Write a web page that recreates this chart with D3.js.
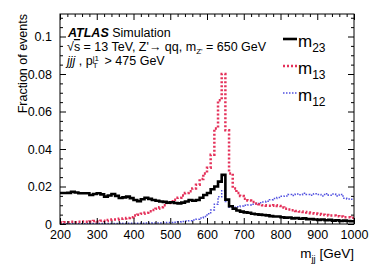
<!DOCTYPE html>
<html>
<head>
<meta charset="utf-8">
<script src="https://cdn.jsdelivr.net/npm/d3@7"></script>
<style>
  body { margin: 0; background: #fff; }
  svg { font-family: "Liberation Sans", Arial, Helvetica, sans-serif; }
  svg text { white-space: pre; }
  .tick text { font-size: 12.5px; fill: #000; }
</style>
</head>
<body>
<svg id="chart" width="374" height="268"></svg>
<script>
// bin low edges, 10 GeV bins from 200 to 1000
var binEdges = d3.range(200, 1000, 10);
var xTicks = [200, 300, 400, 500, 600, 700, 800, 900, 1000];
var yTicks = [0, 0.02, 0.04, 0.06, 0.08, 0.1];
var yTickLabels = ["0", "0.02", "0.04", "0.06", "0.08", "0.1"];

var m23 = [0.0165,0.0165,0.0166,0.0172,0.0168,0.0164,0.0164,0.0164,0.0155,0.0160,
           0.0164,0.0158,0.0146,0.0152,0.0160,0.0150,0.0139,0.0142,0.0146,0.0138,
           0.0128,0.0122,0.0132,0.0140,0.0134,0.0128,0.0124,0.0120,0.0118,0.0114,
           0.0116,0.0112,0.0110,0.0114,0.0120,0.0128,0.0124,0.0128,0.0140,0.0155,
           0.0165,0.0185,0.0200,0.0226,0.0262,0.0130,0.0095,0.0082,0.0072,0.0066,
           0.0062,0.0060,0.0055,0.0052,0.0050,0.0048,0.0046,0.0042,0.0040,0.0040,
           0.0036,0.0034,0.0035,0.0030,0.0032,0.0028,0.0030,0.0026,0.0026,0.0024,
           0.0022,0.0024,0.0020,0.0022,0.0018,0.0020,0.0016,0.0018,0.0016,0.0015];

var m13 = [0.0008,0.0010,0.0010,0.0012,0.0010,0.0012,0.0014,0.0012,0.0014,0.0016,
           0.0014,0.0018,0.0016,0.0022,0.0024,0.0024,0.0028,0.0030,0.0032,0.0036,
           0.0045,0.0050,0.0055,0.0060,0.0068,0.0075,0.0082,0.0090,0.0100,0.0112,
           0.0122,0.0130,0.0140,0.0152,0.0165,0.0175,0.0190,0.0210,0.0240,0.0270,
           0.0300,0.0370,0.0510,0.0660,0.0800,0.0500,0.0270,0.0190,0.0165,0.0150,
           0.0135,0.0125,0.0118,0.0110,0.0105,0.0100,0.0098,0.0098,0.0100,0.0096,
           0.0088,0.0082,0.0078,0.0074,0.0070,0.0067,0.0064,0.0061,0.0058,0.0056,
           0.0054,0.0050,0.0048,0.0046,0.0046,0.0042,0.0040,0.0036,0.0036,0.0034];

var m12 = [0.0002,0.0002,0.0002,0.0002,0.0002,0.0002,0.0002,0.0003,0.0002,0.0003,
           0.0003,0.0003,0.0003,0.0003,0.0003,0.0003,0.0004,0.0003,0.0004,0.0004,
           0.0004,0.0004,0.0004,0.0005,0.0004,0.0005,0.0005,0.0006,0.0007,0.0008,
           0.0008,0.0010,0.0012,0.0014,0.0016,0.0018,0.0022,0.0026,0.0032,0.0040,
           0.0055,0.0075,0.0105,0.0145,0.0178,0.0120,0.0090,0.0090,0.0092,0.0096,
           0.0100,0.0102,0.0106,0.0108,0.0114,0.0118,0.0122,0.0130,0.0136,0.0142,
           0.0148,0.0150,0.0158,0.0152,0.0160,0.0156,0.0164,0.0158,0.0154,0.0162,
           0.0158,0.0150,0.0162,0.0154,0.0160,0.0150,0.0158,0.0138,0.0134,0.0132];

var L = 60, R = 354, T = 14, B = 224;
var svg = d3.select("#chart");

var x = d3.scaleLinear().domain([200, 1000]).range([L, R]);
var y = d3.scaleLinear().domain([0, 0.112]).range([B, T]);

svg.append("clipPath").attr("id", "clip")
  .append("rect").attr("x", L).attr("y", T).attr("width", R - L).attr("height", B - T);

// histograms
function histPts(vals) {
  var pts = binEdges.map(function(e, i) { return [e, vals[i]]; });
  pts.push([1000, vals[vals.length - 1]]);
  return pts;
}
var line = d3.line()
  .x(function(d) { return x(d[0]); })
  .y(function(d) { return y(d[1]); })
  .curve(d3.curveStepAfter);

var hg = svg.append("g").attr("clip-path", "url(#clip)");
hg.append("path").attr("d", line(histPts(m12)))
  .attr("fill", "none").attr("stroke", "#5050e0").attr("stroke-width", 1.5)
  .attr("stroke-dasharray", "1.5,1.5");
hg.append("path").attr("d", line(histPts(m13)))
  .attr("fill", "none").attr("stroke", "#e4315a").attr("stroke-width", 2.5)
  .attr("stroke-dasharray", "2,2");
hg.append("path").attr("d", line(histPts(m23)))
  .attr("fill", "none").attr("stroke", "#000").attr("stroke-width", 2.6);

// axes, ticks pointing inward
function styleAxis(g) {
  g.select(".domain").remove();
  g.selectAll(".tick line").attr("stroke", "#000");
}
var xMinor = d3.range(200, 1001, 20).filter(function(v) { return v % 100 !== 0; });
var yMinor = d3.range(0, 0.1125, 0.005).filter(function(v) { return Math.abs(v / 0.02 - Math.round(v / 0.02)) > 1e-6; });

svg.append("g").attr("transform", "translate(0," + B + ")")
  .call(d3.axisBottom(x).tickValues(xTicks).tickSize(-6).tickPadding(6).tickFormat(d3.format("d")))
  .call(styleAxis);
svg.append("g").attr("transform", "translate(0," + B + ")")
  .call(d3.axisBottom(x).tickValues(xMinor).tickSize(-3).tickFormat(""))
  .call(styleAxis);
svg.append("g").attr("transform", "translate(0," + T + ")")
  .call(d3.axisTop(x).tickValues(xTicks).tickSize(-6).tickFormat(""))
  .call(styleAxis);
svg.append("g").attr("transform", "translate(0," + T + ")")
  .call(d3.axisTop(x).tickValues(xMinor).tickSize(-3).tickFormat(""))
  .call(styleAxis);

svg.append("g").attr("transform", "translate(" + L + ",0)")
  .call(d3.axisLeft(y).tickValues(yTicks).tickSize(-6).tickPadding(8)
    .tickFormat(function(d, i) { return yTickLabels[i]; }))
  .call(styleAxis);
svg.append("g").attr("transform", "translate(" + L + ",0)")
  .call(d3.axisLeft(y).tickValues(yMinor).tickSize(-3).tickFormat(""))
  .call(styleAxis);
svg.append("g").attr("transform", "translate(" + R + ",0)")
  .call(d3.axisRight(y).tickValues(yTicks).tickSize(-6).tickFormat(""))
  .call(styleAxis);
svg.append("g").attr("transform", "translate(" + R + ",0)")
  .call(d3.axisRight(y).tickValues(yMinor).tickSize(-3).tickFormat(""))
  .call(styleAxis);

svg.append("rect").attr("x", L).attr("y", T).attr("width", R - L).attr("height", B - T)
  .attr("fill", "none").attr("stroke", "#000").attr("stroke-width", 1);

// axis titles
svg.append("text").attr("transform", "translate(27," + T + ") rotate(-90)")
  .attr("text-anchor", "end").attr("font-size", 12.5).text("Fraction of events");

var xt = svg.append("text").attr("x", R).attr("y", 258).attr("text-anchor", "end").attr("font-size", 13.5);
xt.append("tspan").text("m");
xt.append("tspan").attr("font-size", 9.5).attr("dy", 4).text("jj");
xt.append("tspan").attr("dy", -4).text(" [GeV]");

// rich text helper: parts laid out one after another
function rich(x0, y0, parts) {
  var cx = x0;
  parts.forEach(function(p) {
    var t = svg.append("text").attr("x", cx).attr("y", y0 + (p.dy || 0))
      .attr("font-size", p.size || 12.5)
      .style("font-style", p.italic ? "italic" : "normal")
      .style("font-weight", p.bold ? "bold" : "normal")
      .style("text-decoration", p.over ? "overline" : "none")
      .text(p.t);
    var w = t.node().getComputedTextLength();
    if (!p.stay) cx += w;
  });
}

rich(68, 37, [
  {t: "ATLAS", bold: true, italic: true},
  {t: " Simulation"}
]);
rich(67, 51, [
  {t: "\u221A"},
  {t: "s", over: true},
  {t: " = 13 TeV, Z'\u2192 qq, m"},
  {t: "Z'", size: 8, dy: 3},
  {t: " = 650 GeV"}
]);
rich(67, 65, [
  {t: "jjj", italic: true},
  {t: " , p"},
  {t: "j1", size: 8, dy: -4.5, stay: true},
  {t: "T", size: 8, dy: 3},
  {t: "  > 475 GeV"}
]);

// legend
var legendNames = ["23", "13", "12"];
var legendStyles = [
  {stroke: "#000", width: 2.6, dash: null},
  {stroke: "#e4315a", width: 2.5, dash: "2,2"},
  {stroke: "#5050e0", width: 1.5, dash: "1.5,1.5"}
];
legendNames.forEach(function(n, i) {
  var ly = 39 + i * 27;
  var s = legendStyles[i];
  svg.append("line").attr("x1", 283).attr("x2", 297).attr("y1", ly).attr("y2", ly)
    .attr("stroke", s.stroke).attr("stroke-width", s.width)
    .attr("stroke-dasharray", s.dash);
  var t = svg.append("text").attr("x", 298).attr("y", ly + 8).attr("font-size", 17);
  t.append("tspan").text("m");
  t.append("tspan").attr("font-size", 12).attr("dy", 5).text(n);
});
</script>
</body>
</html>
